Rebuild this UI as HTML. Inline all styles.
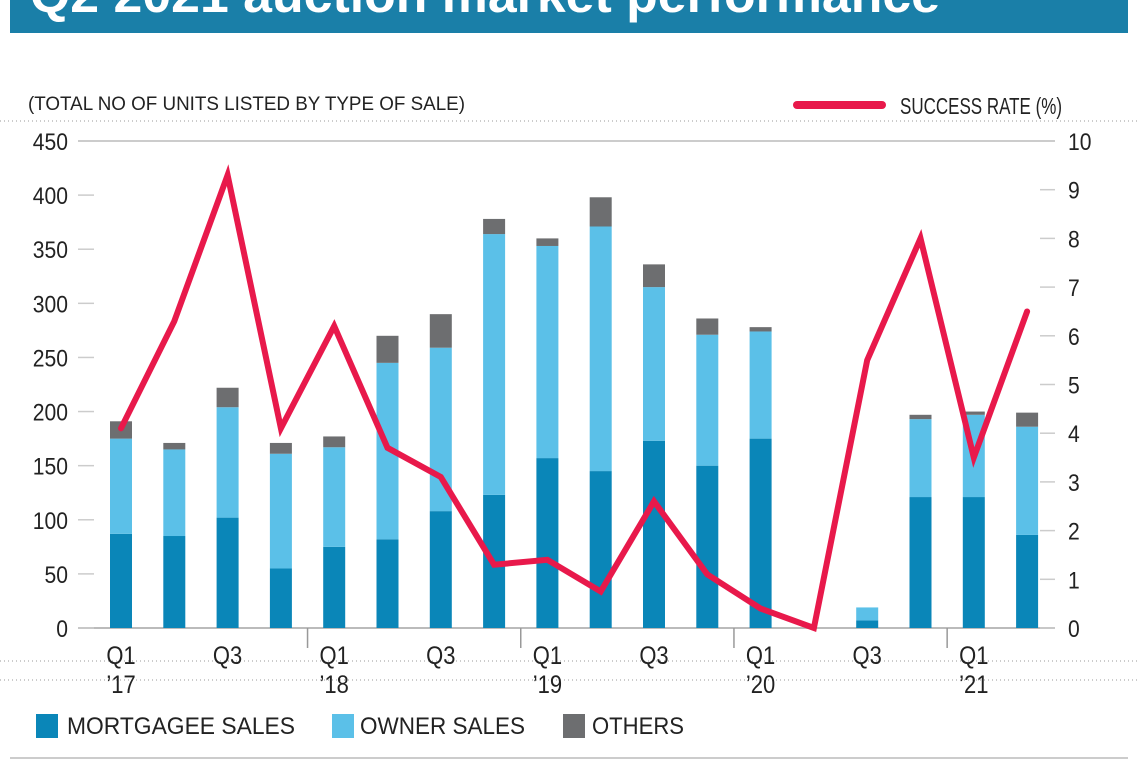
<!DOCTYPE html>
<html><head><meta charset="utf-8"><style>
body{margin:0;background:#fff;}
svg{display:block;font-family:"Liberation Sans",sans-serif;}
</style></head><body>
<svg id="chart" width="1140" height="760">
<rect x="10" y="0" width="1118" height="33" fill="#1a7fa8"/>
<text x="30" y="12" fill="#fff" font-size="50" font-weight="bold" textLength="910" lengthAdjust="spacingAndGlyphs">Q2 2021 auction market performance</text>
<text x="28" y="110" font-size="19" fill="#222" textLength="437" lengthAdjust="spacingAndGlyphs">(TOTAL NO OF UNITS LISTED BY TYPE OF SALE)</text>
<line x1="797" y1="105" x2="882" y2="105" stroke="#e8194b" stroke-width="8" stroke-linecap="round"/>
<text x="900" y="114" font-size="23" fill="#222" textLength="162" lengthAdjust="spacingAndGlyphs">SUCCESS RATE (%)</text>
<line x1="0" y1="121" x2="1140" y2="121" stroke="#999" stroke-dasharray="1,3"/>
<line x1="0" y1="661" x2="1140" y2="661" stroke="#999" stroke-dasharray="1,3"/>
<line x1="0" y1="680" x2="1140" y2="680" stroke="#999" stroke-dasharray="1,3"/>
<line x1="10" y1="758" x2="1128" y2="758" stroke="#ccc" stroke-width="2"/>
<g id="axes"></g><g id="bars"></g><g id="line"></g>
<rect x="36" y="714" width="22" height="24" fill="#0a86b8"/>
<text x="67" y="734" font-size="24" fill="#222" textLength="228" lengthAdjust="spacingAndGlyphs">MORTGAGEE SALES</text>
<rect x="332" y="714" width="22" height="24" fill="#5bc0e8"/>
<text x="360" y="734" font-size="24" fill="#222" textLength="165" lengthAdjust="spacingAndGlyphs">OWNER SALES</text>
<rect x="563" y="714" width="22" height="24" fill="#6d6e70"/>
<text x="592" y="734" font-size="24" fill="#222" textLength="92" lengthAdjust="spacingAndGlyphs">OTHERS</text>
</svg>
<script>
const quarters=["Q1'17","Q2'17","Q3'17","Q4'17","Q1'18","Q2'18","Q3'18","Q4'18","Q1'19","Q2'19","Q3'19","Q4'19","Q1'20","Q2'20","Q3'20","Q4'20","Q1'21","Q2'21"];
const mortgagee=[87,85,102,55,75,82,108,123,157,145,173,150,175,0,7,121,121,86];
const owner=[88,80,102,106,92,163,151,241,196,226,142,121,99,0,12,72,76,100];
const others=[16,6,18,10,10,25,31,14,7,27,21,15,4,0,0,4,3,13];
const successRate=[4.1,6.3,9.3,4.1,6.2,3.7,3.1,1.3,1.4,0.75,2.6,1.1,0.4,0,5.5,8.0,3.5,6.5];
const leftTicks=[0,50,100,150,200,250,300,350,400,450];
const rightTicks=[0,1,2,3,4,5,6,7,8,9,10];
const xLabels=[[0,"Q1","’17"],[2,"Q3",""],[4,"Q1","’18"],[6,"Q3",""],[8,"Q1","’19"],[10,"Q3",""],[12,"Q1","’20"],[14,"Q3",""],[16,"Q1","’21"]];
const NS="http://www.w3.org/2000/svg";
const y0=628,yTop=141;
const yL=v=>y0-(v/450)*(y0-yTop);
const yR=v=>y0-(v/10)*(y0-yTop);
const xC=i=>121+i*53.3;
function mk(tag,attrs,parent){const e=document.createElementNS(NS,tag);for(const k in attrs)e.setAttribute(k,attrs[k]);parent.appendChild(e);return e;}
const ax=document.getElementById('axes'),bg=document.getElementById('bars'),lg=document.getElementById('line');
let l=mk('line',{x1:78,y1:y0,x2:1055,y2:y0,stroke:'#bbb','stroke-width':2},ax);


l=mk('line',{x1:78,y1:yTop,x2:1055,y2:yTop,stroke:'#ccc','stroke-width':2},ax);


leftTicks.forEach(v=>{
  const t=mk('text',{x:68,y:yL(v)+9,'font-size':24,'text-anchor':'end',fill:'#222',transform:'translate(68,0) scale(0.88,1) translate(-68,0)'},ax);t.textContent=v;
  
  
  const tk=mk('line',{x1:78,y1:yL(v),x2:94,y2:yL(v),stroke:'#ccc','stroke-width':1.5},ax);
  
  
});
rightTicks.forEach(v=>{
  const t=mk('text',{x:1068,y:yR(v)+9,'font-size':24,fill:'#222',transform:'translate(1068,0) scale(0.88,1) translate(-1068,0)'},ax);t.textContent=v;
  
  
  const tk=mk('line',{x1:1040,y1:yR(v),x2:1055,y2:yR(v),stroke:'#ccc','stroke-width':1.5},ax);
  
  
});
[3.5,7.5,11.5,15.5].forEach(p=>{
  const tk=mk('line',{x1:xC(p),y1:y0,x2:xC(p),y2:y0+20,stroke:'#999','stroke-width':1.5},ax);
  
  
});
xLabels.forEach(([i,q,yr])=>{
  const cx=xC(i);
  const t=mk('text',{x:cx,y:664,'font-size':25,'text-anchor':'middle',fill:'#222',transform:`translate(${cx},0) scale(0.88,1) translate(${-cx},0)`},ax);t.textContent=q;
  
  
  if(yr){const t2=mk('text',{x:cx,y:693,'font-size':25,'text-anchor':'middle',fill:'#222',transform:`translate(${cx},0) scale(0.88,1) translate(${-cx},0)`},ax);t2.textContent=yr;
  
  }
});
quarters.forEach((q,i)=>{
  const segs=[[mortgagee[i],'#0a86b8','bar-mortgagee'],[owner[i],'#5bc0e8','bar-owner'],[others[i],'#6d6e70','bar-others']];
  let base=0;
  segs.forEach(([v,c,n])=>{
    if(v<=0)return;
    const r=mk('rect',{x:xC(i)-11,y:yL(base+v),width:22,height:yL(base)-yL(base+v),fill:c},bg);
    
    
    base+=v;
  });
});
const pts=successRate.map((v,i)=>xC(i)+','+yR(v)).join(' ');
const pl=mk('polyline',{points:pts,fill:'none',stroke:'#e8194b','stroke-width':6,'stroke-linejoin':'miter','stroke-linecap':'round'},lg);


</script>
</body></html>
